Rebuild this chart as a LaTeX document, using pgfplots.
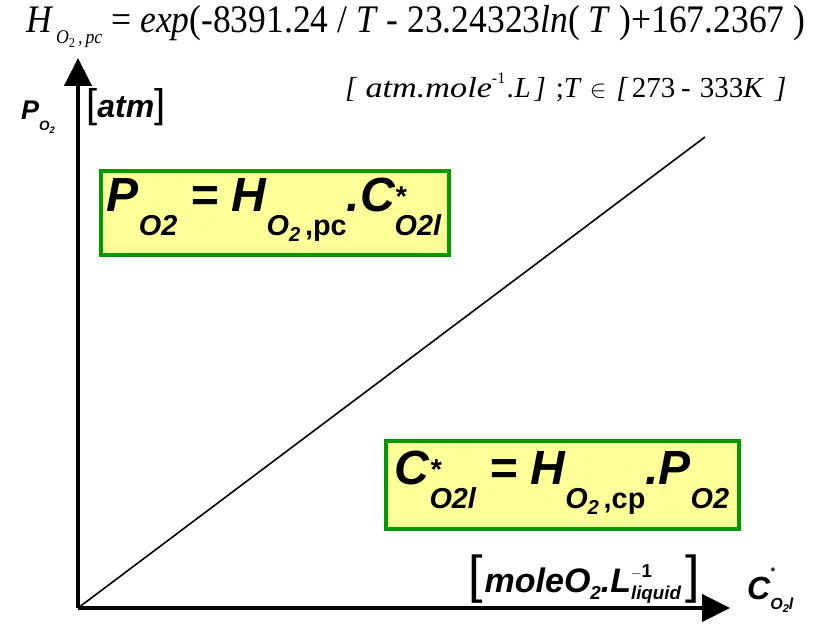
\documentclass[border=0pt]{standalone}
\usepackage{pgfplots}
\pgfplotsset{compat=1.18}
\usepackage{fontspec}
\setmainfont{Liberation Serif}
\newfontfamily\arialfont{Liberation Sans}
\usetikzlibrary{arrows.meta}

\definecolor{boxfill}{HTML}{FFFF99}
\definecolor{boxline}{HTML}{009900}

% lowered, shrunken text for subscripts; small raised star
\newcommand{\sbx}[2][0.6]{\raisebox{-0.5em}{\scalebox{#1}{#2}}}
\newcommand{\spx}[1][0.6]{\raisebox{0.12em}{\scalebox{#1}{*}}}
\newcommand{\two}{\raisebox{-0.2em}{\scalebox{0.7}{2}}}

\begin{document}
\begin{tikzpicture}[x=1pt,y=1pt]
\useasboundingbox (0,0) rectangle (815,631);

% Henry constant correlation
\node[anchor=base west,inner sep=0pt,font=\fontsize{39}{42}\selectfont] at (26,598)
  {\scalebox{0.91}[1]{\textit{H}\hspace{3pt}\raisebox{-0.27em}{\scalebox{0.5}{\textit{O}\two\,\textit{,\,pc}}}\hspace{10pt}= \textit{exp}(-8391.24 / \textit{T} - 23.24323\textit{ln}( \textit{T} )+167.2367 )}};
\node[anchor=base west,inner sep=0pt,font=\fontsize{29}{31}\selectfont] at (345,533)
  {\textit{[}\hspace{8pt}\scalebox{1.18}[1]{\textit{atm.mole}}\raisebox{0.5em}{\scalebox{0.55}{-1}}\hspace{2pt}\textit{.L}\hspace{4pt}\textit{]}\hspace{10pt};\textit{T}\hspace{8pt}$\in$\hspace{10pt}\textit{[}\hspace{3pt}273\hspace{6pt}-\hspace{9pt}333\textit{K}\hspace{11pt}\textit{]}};

% axis names and units
\node[anchor=base west,inner sep=0pt,font=\arialfont\bfseries\itshape\fontsize{27}{29}\selectfont] at (21,511)
  {P\raisebox{-0.4em}{\scalebox{0.5}{O\two}}};
\node[anchor=base west,inner sep=0pt,font=\arialfont\fontsize{40}{40}\selectfont] at (86,513)
  {[\bfseries\itshape\fontsize{32}{34}\selectfont atm\mdseries\upshape\fontsize{40}{40}\selectfont]};
\node[anchor=base west,inner sep=0pt,font=\arialfont\fontsize{52}{52}\selectfont] at (468,38)
  {[\hspace{2pt}\bfseries\itshape\fontsize{34}{36}\selectfont moleO\raisebox{-0.2em}{\scalebox{0.55}{2}}.L\rlap{\raisebox{0.45em}{\scalebox{0.55}{\upshape$-$1}}}\raisebox{-0.2em}{\scalebox{0.55}{liquid}}\hspace{5pt}\mdseries\upshape\fontsize{52}{52}\selectfont]};
\node[anchor=base west,inner sep=0pt,font=\arialfont\bfseries\itshape\fontsize{32}{34}\selectfont] at (747,31)
  {C\rlap{\raisebox{0.75em}{\scalebox{0.35}{*}}}\raisebox{-0.3em}{\scalebox{0.5}{O\two l}}};

% formula boxes
\node[draw=boxline,line width=4pt,fill=boxfill,minimum width=348pt,minimum height=84pt,inner sep=0pt] at (275,418) {};
\node[anchor=base,inner sep=0pt,font=\arialfont\bfseries\itshape\fontsize{48}{50}\selectfont] at (274,419)
  {P\sbx{O2} = H\sbx{O\two\upshape\,,pc}.C\rlap{\spx}\sbx{O2l}};
\node[draw=boxline,line width=4pt,fill=boxfill,minimum width=353pt,minimum height=88pt,inner sep=0pt] at (562,146) {};
\node[anchor=base,inner sep=0pt,font=\arialfont\bfseries\itshape\fontsize{48}{50}\selectfont] at (562,146)
  {C\rlap{\spx}\sbx{O2l} = H\sbx{O\two\upshape\,,cp}.P\sbx{O2}};

\begin{axis}[
  at={(78pt,23pt)}, anchor=south west,
  scale only axis, width=652pt, height=550pt,
  xmin=0, xmax=652, ymin=0, ymax=550,
  axis lines=left,
  axis line style={line width=4.5pt, -{Triangle[length=28pt,width=27pt]}},
  xtick=\empty, ytick=\empty,
  clip=false,
]
\addplot[black, line width=1.6pt] coordinates {(0,0) (627,471)};
\end{axis}
\end{tikzpicture}
\end{document}
